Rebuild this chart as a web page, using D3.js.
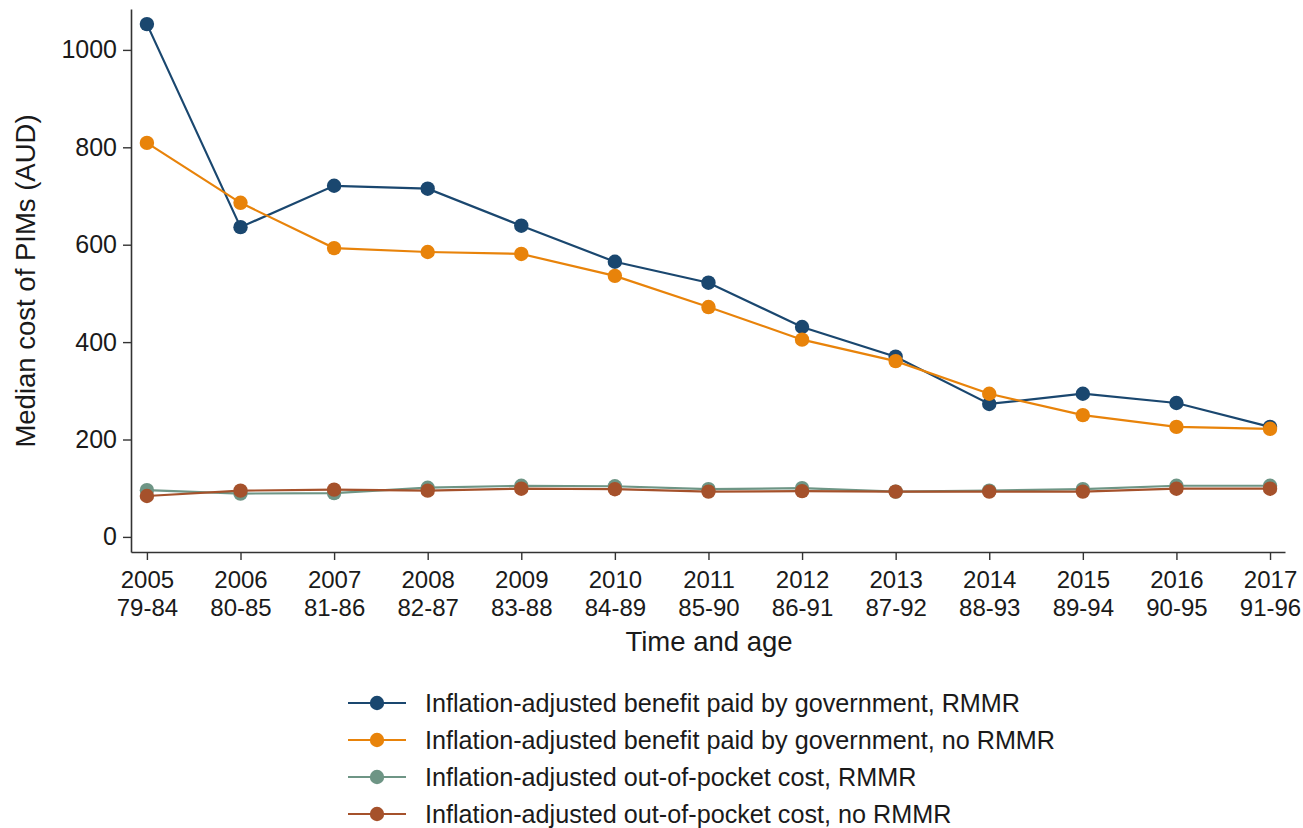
<!DOCTYPE html>
<html>
<head>
<meta charset="utf-8">
<script src="https://cdn.jsdelivr.net/npm/d3@7"></script>
<style>
  html, body { margin: 0; padding: 0; background: #ffffff; }
  svg { display: block; font-family: "Liberation Sans", Arial, sans-serif; }
</style>
</head>
<body>
<svg id="chart" width="1303" height="828"></svg>
<script>
// Years and age bands on the x axis
const years = [2005, 2006, 2007, 2008, 2009, 2010, 2011, 2012, 2013, 2014, 2015, 2016, 2017];
const ageBands = ["79-84", "80-85", "81-86", "82-87", "83-88", "84-89", "85-90", "86-91", "87-92", "88-93", "89-94", "90-95", "91-96"];
const yTicks = [0, 200, 400, 600, 800, 1000];

// Median cost of PIMs (AUD), inflation-adjusted
const benefitRMMR   = [1053, 636, 721, 715, 639, 565, 522, 431, 370, 273, 294, 275, 226];
const benefitNoRMMR = [809, 686, 593, 585, 581, 536, 472, 405, 361, 294, 250, 226, 222];
const oopRMMR       = [96, 89, 90, 101, 105, 104, 98, 100, 93, 95, 98, 105, 105];
const oopNoRMMR     = [84, 95, 97, 95, 99, 98, 93, 94, 93, 93, 93, 99, 99];

const seriesNames = [
  "Inflation-adjusted benefit paid by government, RMMR",
  "Inflation-adjusted benefit paid by government, no RMMR",
  "Inflation-adjusted out-of-pocket cost, RMMR",
  "Inflation-adjusted out-of-pocket cost, no RMMR"
];
const seriesColors = ["#1a476f", "#e8830a", "#6e9585", "#a5512b"];
const seriesValues = [benefitRMMR, benefitNoRMMR, oopRMMR, oopNoRMMR];

const svg = d3.select("#chart");

const x = d3.scaleLinear().domain([2004.83, 2017.16]).range([131, 1285]);
const y = d3.scaleLinear().domain([-31, 1084]).range([552, 9]);

const axisColor = "#333333";
const textColor = "#1a1a1a";

// Y axis
const yAxis = svg.append("g")
  .attr("transform", "translate(131,0)")
  .call(d3.axisLeft(y).tickValues(yTicks).tickSize(8).tickSizeOuter(0).tickPadding(6)
    .tickFormat(d3.format("d")));
yAxis.select(".domain").attr("stroke", axisColor).attr("stroke-width", 1.6);
yAxis.selectAll(".tick line").attr("stroke", axisColor).attr("stroke-width", 1.4);
yAxis.selectAll(".tick text").attr("font-size", 25).attr("fill", textColor)
  .attr("font-family", "Liberation Sans, Arial, sans-serif");

// X axis with two-line labels (year above, age band below)
const xAxis = svg.append("g")
  .attr("transform", "translate(0,552)")
  .call(d3.axisBottom(x).tickValues(years).tickSize(8).tickSizeOuter(0).tickFormat(""));
xAxis.select(".domain").attr("stroke", axisColor).attr("stroke-width", 1.6);
xAxis.selectAll(".tick line").attr("stroke", axisColor).attr("stroke-width", 1.4);
xAxis.selectAll(".tick").each(function(d, i) {
  const tick = d3.select(this);
  tick.append("text")
    .attr("fill", textColor)
    .attr("font-size", 24)
    .attr("text-anchor", "middle")
    .attr("font-family", "Liberation Sans, Arial, sans-serif")
    .attr("x", 0).attr("y", 36)
    .text(d);
  tick.append("text")
    .attr("fill", textColor)
    .attr("font-size", 24)
    .attr("text-anchor", "middle")
    .attr("font-family", "Liberation Sans, Arial, sans-serif")
    .attr("x", 0).attr("y", 64)
    .text(ageBands[i]);
});

// Axis titles
svg.append("text")
  .attr("x", 709).attr("y", 651)
  .attr("text-anchor", "middle")
  .attr("font-size", 27.5)
  .attr("fill", textColor)
  .text("Time and age");

svg.append("text")
  .attr("transform", "translate(35,281) rotate(-90)")
  .attr("text-anchor", "middle")
  .attr("font-size", 27.5)
  .attr("fill", textColor)
  .text("Median cost of PIMs (AUD)");

// Series lines and markers
const line = d3.line().x((d, i) => x(years[i])).y(d => y(d));

seriesValues.forEach((vals, s) => {
  const g = svg.append("g");
  g.append("path")
    .datum(vals)
    .attr("d", line)
    .attr("fill", "none")
    .attr("stroke", seriesColors[s])
    .attr("stroke-width", 2.2);
  g.selectAll("circle")
    .data(vals)
    .join("circle")
    .attr("cx", (d, i) => x(years[i]))
    .attr("cy", d => y(d))
    .attr("r", 7.2)
    .attr("fill", seriesColors[s]);
});

// Legend
const legend = svg.append("g");
const legendY = d3.scalePoint().domain(d3.range(seriesNames.length)).range([703, 814]);
seriesNames.forEach((name, s) => {
  const cy = legendY(s);
  legend.append("line")
    .attr("x1", 348).attr("x2", 406)
    .attr("y1", cy).attr("y2", cy)
    .attr("stroke", seriesColors[s]).attr("stroke-width", 2.2);
  legend.append("circle")
    .attr("cx", 377).attr("cy", cy).attr("r", 7.2)
    .attr("fill", seriesColors[s]);
  legend.append("text")
    .attr("x", 425).attr("y", cy)
    .attr("dy", "0.36em")
    .attr("font-size", 25.2)
    .attr("fill", textColor)
    .text(name);
});
</script>
</body>
</html>
